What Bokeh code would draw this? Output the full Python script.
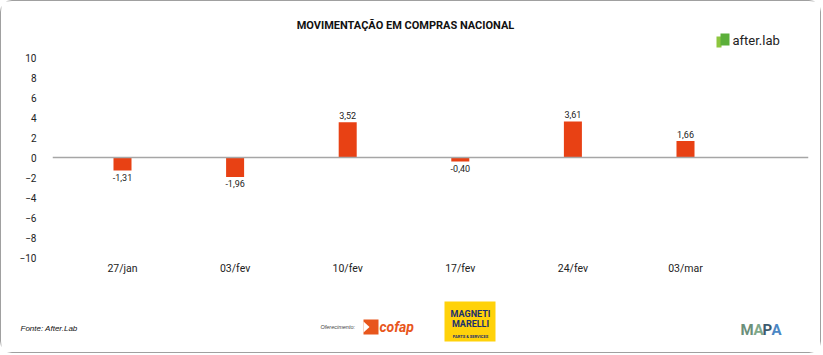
from bokeh.plotting import figure
from bokeh.models import (Range1d, FixedTicker, Span, Label, ColumnDataSource)
from bokeh.layouts import column
from bokeh.core.properties import value
from bokeh.embed import file_html
from bokeh.resources import INLINE

# ---- data ----
categories = ["27/jan", "03/fev", "10/fev", "17/fev", "24/fev", "03/mar"]
values = [-1.31, -1.96, 3.52, -0.40, 3.61, 1.66]
y_ticks = [-10, -8, -6, -4, -2, 0, 2, 4, 6, 8, 10]
title_text = "MOVIMENTAÇÃO EM COMPRAS NACIONAL"
source_text = "Fonte: After.Lab"

BAR = "#E84114"
W = 819

def blank(h):
    f = figure(width=W, height=h, x_range=Range1d(0, W), y_range=Range1d(h, 0),
               output_backend="svg", toolbar_location=None, min_border=0,
               outline_line_color=None)
    f.axis.visible = False
    f.grid.visible = False
    return f

# ---- header ----
hdr = blank(48)
hdr.add_layout(Label(x=404, y=24, text=title_text, text_font="Roboto", text_font_style="bold",
                     text_font_size="11px", text_color="#111111", text_align="center",
                     text_baseline="middle"))
hdr.quad(left=[715, 719], right=[720, 728], top=[35, 32], bottom=[46, 44],
         fill_color=["#8DC63F", "#5BAF3A"], line_color=None)
hdr.add_layout(Label(x=731, y=39, text="after.lab", text_font="Roboto", text_font_size="13px",
                     text_color="#222222", text_baseline="middle"))

# ---- main chart ----
xs = list(range(len(categories)))
p = figure(width=W, height=230, x_range=Range1d((52 - 122) / 112.6, (808 - 122) / 112.6),
           y_range=Range1d(-10.4, 10.4), output_backend="svg", toolbar_location=None,
           min_border_left=51, min_border_right=12, min_border_top=4, min_border_bottom=18,
           outline_line_color=None)
p.grid.visible = False
p.yaxis.ticker = FixedTicker(ticks=y_ticks)
p.xaxis.ticker = FixedTicker(ticks=xs)
p.xaxis.major_label_overrides = {i: c for i, c in zip(xs, categories)}
for ax in (p.xaxis, p.yaxis):
    ax.axis_line_color = None
    ax.major_tick_line_color = None
    ax.minor_tick_line_color = None
    ax.major_tick_out = 0
    ax.major_tick_in = 0
    ax.minor_tick_out = 0
    ax.major_label_text_font = "Roboto"
    ax.major_label_text_color = "#222222"
p.yaxis.major_label_text_font_size = "10px"
p.yaxis.major_label_standoff = 16
p.xaxis.major_label_text_font_size = "10.5px"
p.xaxis.major_label_standoff = 0

p.add_layout(Span(location=0, dimension="width", line_color="#A6A6A6", line_width=1.6))

src = ColumnDataSource(dict(
    x=xs, v=values,
    lbl=[f"{v:.2f}".replace(".", ",") for v in values],
    base=["bottom" if v >= 0 else "top" for v in values],
    off=[-3 if v >= 0 else 3 for v in values],
))
p.vbar(x="x", top="v", bottom=0, width=0.16, source=src, fill_color=BAR, line_color=None)
p.text(x="x", y="v", text="lbl", source=src, text_align="center", text_baseline="base",
       y_offset="off", text_font=value("Roboto"), text_font_size=value("9px"),
       text_color="#222222")

# ---- footer ----
ftr = blank(73)
ftr.add_layout(Label(x=19, y=49, text=source_text, text_font="Liberation Sans",
                     text_font_style="italic", text_font_size="8px", text_color="#111111",
                     text_baseline="middle"))
ftr.add_layout(Label(x=319, y=47, text="Oferecimento:", text_font="Liberation Sans",
                     text_font_style="italic", text_font_size="5.5px", text_color="#444444",
                     text_baseline="middle"))
# cofap mark
ftr.quad(left=[362], right=[377], top=[40], bottom=[55], fill_color="#E8561C", line_color=None)
ftr.patch(x=[362, 368, 362], y=[42, 47.5, 53], fill_color="white", line_color=None)
ftr.add_layout(Label(x=378, y=47, text="cofap", text_font="Roboto", text_font_style="bold italic",
                     text_font_size="14px", text_color="#E8561C", text_baseline="middle"))
# Magneti Marelli box
ftr.quad(left=[443], right=[494], top=[22], bottom=[62], fill_color="#FFD20A", line_color=None)
ftr.add_layout(Label(x=469, y=34, text="MAGNETI", text_font="Roboto", text_font_style="bold",
                     text_font_size="9px", text_color="#1B2F6E", text_align="center",
                     text_baseline="middle"))
ftr.add_layout(Label(x=469, y=44, text="MARELLI", text_font="Roboto", text_font_style="bold",
                     text_font_size="9px", text_color="#1B2F6E", text_align="center",
                     text_baseline="middle"))
ftr.add_layout(Label(x=469, y=57, text="PARTS & SERVICES", text_font="Roboto",
                     text_font_style="bold", text_font_size="4px", text_color="#1B2F6E",
                     text_align="center", text_baseline="middle"))
# MAPA
mapa_letters = ["M", "A", "P", "A"]
mapa_colors = ["#6B8F7A", "#7FA98A", "#3C5A6E", "#4B87C5"]
mapa_x = [739, 752, 761, 770]
for ch, col, xx in zip(mapa_letters, mapa_colors, mapa_x):
    ftr.add_layout(Label(x=xx, y=50, text=ch, text_font="Roboto", text_font_style="bold",
                         text_font_size="15px", text_color=col, text_baseline="middle"))

# wrap header and footer so their frames are not aligned with the chart frame
layout = column(column(hdr), p, column(ftr), spacing=0,
                styles={"border": "1px solid #A0A0A0", "border-radius": "12px",
                        "background": "white"})

open("out.html", "w").write(file_html(layout, INLINE))
